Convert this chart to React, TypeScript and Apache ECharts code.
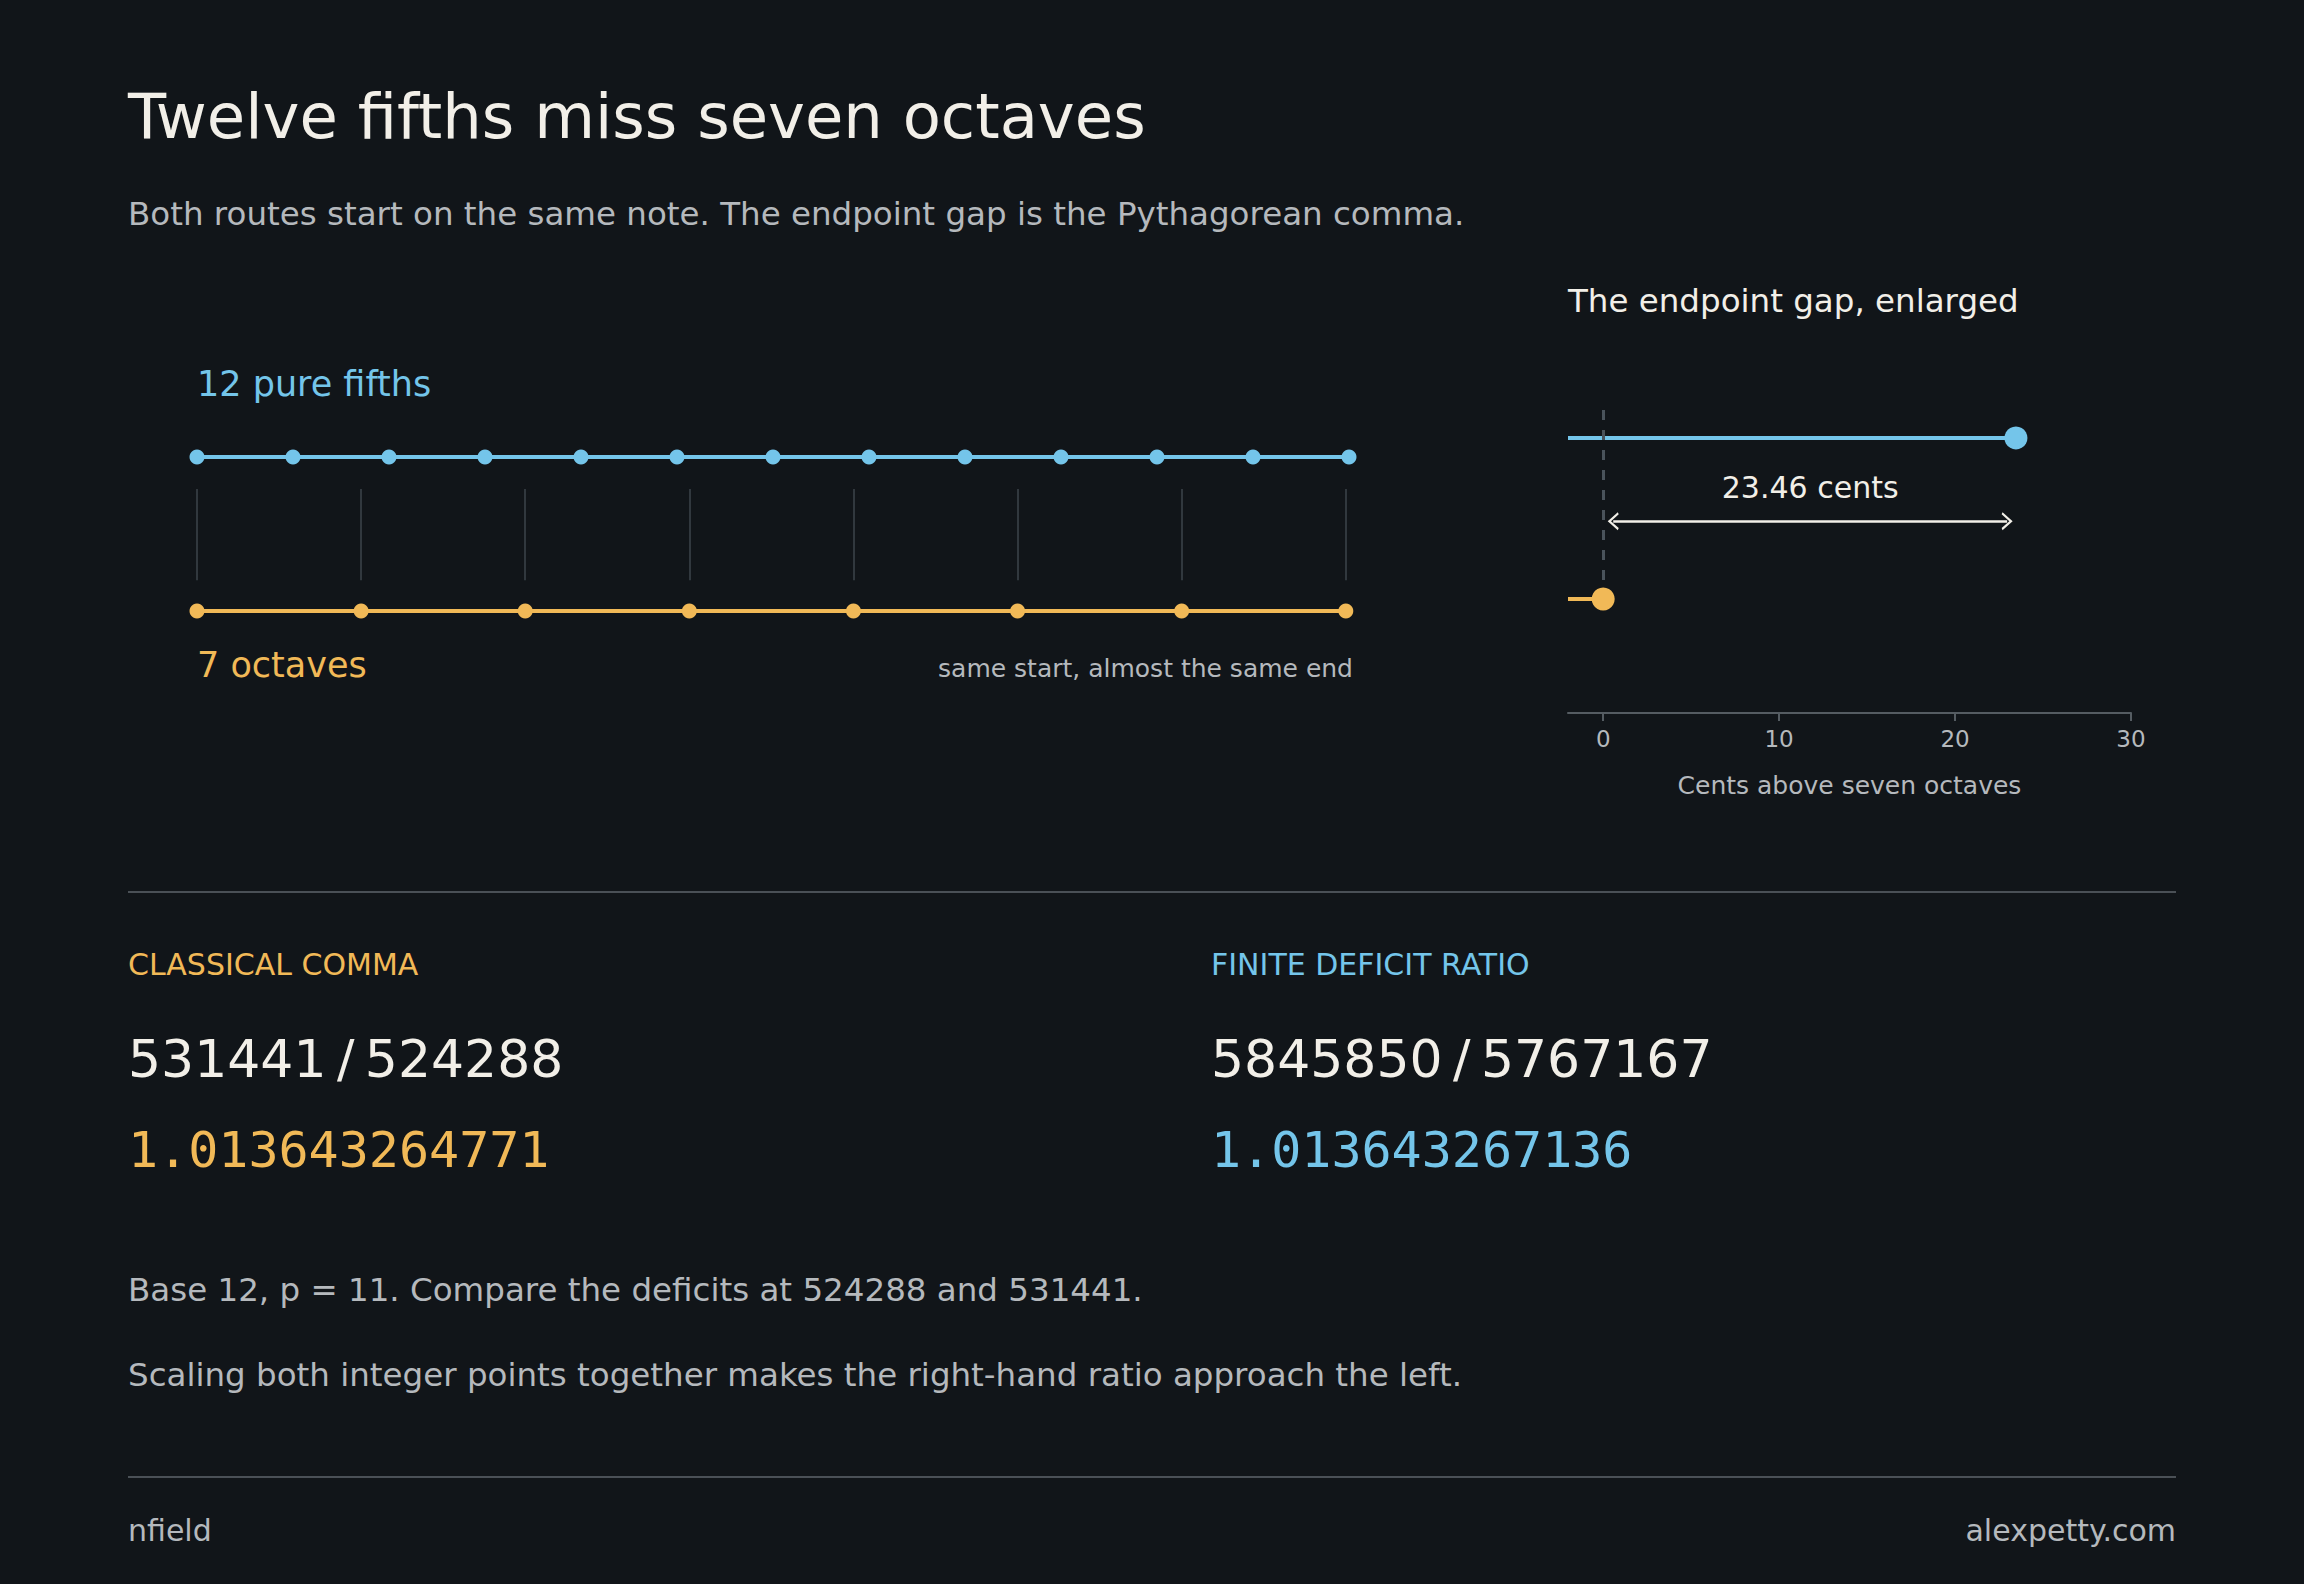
import React, { useEffect, useRef } from "react";
import * as echarts from "echarts";

// ---- data ----
const fifthsCents = [0, 701.96, 1403.91, 2105.87, 2807.82, 3509.78, 4211.73, 4913.69, 5615.64, 6317.6, 7019.55, 7721.51, 8423.46];
const octaveCents = [0, 1200, 2400, 3600, 4800, 6000, 7200, 8400];
const gapCents = 23.46;
const gapTicks = [0, 10, 20, 30];
const commaFraction = "531441\u2009/\u2009524288";
const commaDecimal = "1.013643264771";
const deficitFraction = "5845850\u2009/\u20095767167";
const deficitDecimal = "1.013643267136";

const BG = "#111519";
const WHITE = "#f2efe8";
const GREY = "#b5b9bd";
const BLUE = "#74c5ea";
const ORANGE = "#f1b957";
const FONT = "'DejaVu Sans', sans-serif";
const MONO = "'DejaVu Sans Mono', monospace";

const txt = (text: string, x: number, y: number, size: number, fill: string, opts: any = {}) => ({
  type: "text",
  x,
  y,
  silent: true,
  style: {
    text,
    fill,
    fontSize: size,
    fontFamily: opts.mono ? MONO : FONT,
    textAlign: opts.align || "left",
    textVerticalAlign: "middle",
  },
});

const hline = (y: number) => ({
  type: "line",
  silent: true,
  shape: { x1: 128, y1: y, x2: 2176, y2: y },
  style: { stroke: "#4a5056", lineWidth: 2 },
});

const chevron = "path://M0,11 L6,0 L12,11 L10.6,12 L6,3.6 L1.4,12 Z";

export default function App() {
  const ref = useRef<HTMLDivElement>(null);
  useEffect(() => {
    if (!ref.current) return;
    const chart = echarts.init(ref.current, null, { renderer: "svg" });
    const option: any = {
      animation: false,
      backgroundColor: BG,
      grid: [
        { left: 197, top: 457, width: 1152, height: 154 },
        { left: 1568, top: 407, width: 563, height: 306 },
      ],
      xAxis: [
        { gridIndex: 0, type: "value", min: 0, max: fifthsCents[fifthsCents.length - 1], show: false },
        {
          gridIndex: 1,
          type: "value",
          min: -2,
          max: 30,
          axisLine: { show: true, lineStyle: { color: "#555c62", width: 2 } },
          axisTick: { show: true, customValues: gapTicks, length: 8, lineStyle: { color: "#555c62", width: 2 } },
          axisLabel: { customValues: gapTicks, color: GREY, fontSize: 23, fontFamily: FONT, margin: 14 },
          splitLine: { show: false },
          name: "Cents above seven octaves",
          nameLocation: "middle",
          nameGap: 60,
          nameTextStyle: { color: GREY, fontSize: 25, fontFamily: FONT },
        },
      ],
      yAxis: [
        { gridIndex: 0, type: "value", min: 0, max: 1, show: false },
        { gridIndex: 1, type: "value", min: 0, max: 1, show: false },
      ],
      series: [
        {
          type: "line",
          xAxisIndex: 0,
          yAxisIndex: 0,
          data: octaveCents.map((c) => [c, 0]),
          symbol: "circle",
          symbolSize: 15,
          itemStyle: { color: ORANGE },
          lineStyle: { color: ORANGE, width: 4 },
          silent: true,
          markLine: {
            silent: true,
            symbol: ["none", "none"],
            label: { show: false },
            lineStyle: { color: "#3d444b", width: 1.5, type: "solid" },
            data: octaveCents.map((c) => [{ coord: [c, 0.2] }, { coord: [c, 0.792] }]),
          },
        },
        {
          type: "line",
          xAxisIndex: 0,
          yAxisIndex: 0,
          data: fifthsCents.map((c) => [c, 1]),
          symbol: "circle",
          symbolSize: 15,
          itemStyle: { color: BLUE },
          lineStyle: { color: BLUE, width: 4 },
          silent: true,
        },
        {
          type: "line",
          xAxisIndex: 1,
          yAxisIndex: 1,
          data: [
            { value: [-2, 0.3725], symbolSize: 0 },
            { value: [0, 0.3725], symbolSize: 23 },
          ],
          symbol: "circle",
          showAllSymbol: true,
          itemStyle: { color: ORANGE },
          lineStyle: { color: ORANGE, width: 4 },
          silent: true,
          markLine: {
            silent: true,
            symbol: ["none", "none"],
            label: { show: false },
            lineStyle: { color: "#4a535b", width: 3, type: [10, 10] },
            data: [[{ coord: [0, 0.435] }, { coord: [0, 1] }]],
          },
        },
        {
          type: "line",
          xAxisIndex: 1,
          yAxisIndex: 1,
          data: [
            { value: [-2, 0.899], symbolSize: 0 },
            { value: [gapCents, 0.899], symbolSize: 23 },
          ],
          symbol: "circle",
          showAllSymbol: true,
          itemStyle: { color: BLUE },
          lineStyle: { color: BLUE, width: 4 },
          silent: true,
          markLine: {
            silent: true,
            symbol: [chevron, chevron],
            symbolSize: [18, 11],
            lineStyle: { color: WHITE, width: 2.5, type: "solid" },
            label: {
              show: true,
              position: "insideMiddleTop",
              distance: 19,
              formatter: gapCents.toFixed(2) + " cents",
              color: WHITE,
              fontSize: 30,
              fontFamily: FONT,
            },
            data: [[{ coord: [0.57, 0.627] }, { coord: [gapCents - 0.5, 0.627] }]],
          },
        },
      ],
      graphic: [
        txt("Twelve fifths miss seven octaves", 128, 116, 62.4, WHITE),
        txt("Both routes start on the same note. The endpoint gap is the Pythagorean comma.", 128, 214, 32.5, GREY),
        txt("12 pure fifths", 197, 384, 35, BLUE),
        txt("7 octaves", 197, 665, 35, ORANGE),
        txt("same start, almost the same end", 1353, 668, 25, GREY, { align: "right" }),
        txt("The endpoint gap, enlarged", 1568, 301, 32.5, WHITE),
        hline(892),
        txt("CLASSICAL COMMA", 128, 964, 30, ORANGE),
        txt("FINITE DEFICIT RATIO", 1211, 964, 30, BLUE),
        txt(commaFraction, 128, 1059, 52, WHITE),
        txt(deficitFraction, 1211, 1059, 52, WHITE),
        txt(commaDecimal, 128, 1150, 50, ORANGE, { mono: true }),
        txt(deficitDecimal, 1211, 1150, 50, BLUE, { mono: true }),
        txt("Base 12, p = 11. Compare the deficits at 524288 and 531441.", 128, 1290, 32.5, GREY),
        txt("Scaling both integer points together makes the right-hand ratio approach the left.", 128, 1375, 32.5, GREY),
        hline(1477),
        txt("nfield", 128, 1530, 30, GREY),
        txt("alexpetty.com", 2176, 1530, 30, GREY, { align: "right" }),
      ],
    };
    chart.setOption(option);
    return () => chart.dispose();
  }, []);
  return (
    <div
      ref={ref}
      style={{ position: "fixed", left: 0, top: 0, width: 2304, height: 1584, background: BG }}
    />
  );
}
